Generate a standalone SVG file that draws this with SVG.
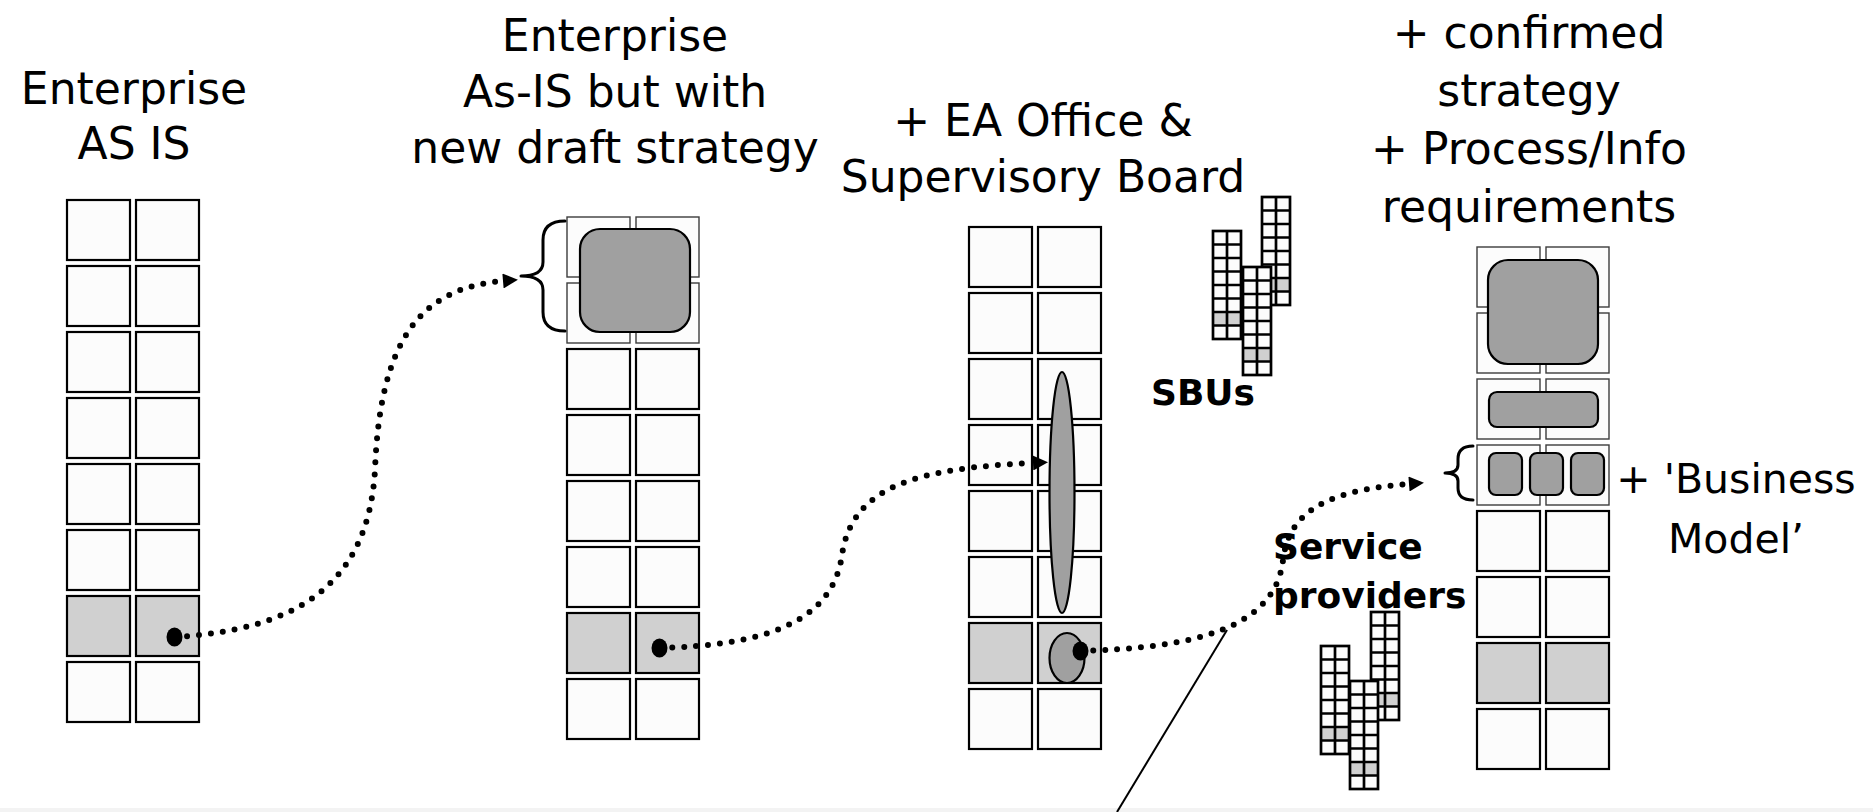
<svg xmlns="http://www.w3.org/2000/svg" xmlns:xlink="http://www.w3.org/1999/xlink" width="1873" height="812" viewBox="0 0 1873 812">
  <style>
    .title { font-family: "DejaVu Sans", "Liberation Sans", sans-serif; font-size: 44px; fill: #000; text-anchor: middle; }
    .note { font-family: "DejaVu Sans", "Liberation Sans", sans-serif; font-size: 41px; fill: #000; text-anchor: middle; }
    .bold { font-family: "DejaVu Sans", "Liberation Sans", sans-serif; font-weight: bold; font-size: 36px; fill: #000; }
    .cell { fill: #fcfcfc; stroke: #000; stroke-width: 2.2; }
    .cell.shade { fill: #d0d0d0; }
    .cell.under { stroke: #3c3c3c; stroke-width: 1.4; }
    .blob { fill: #a0a0a0; stroke: #000; stroke-width: 2.2; }
    .flow { fill: none; stroke: #000; stroke-width: 6; stroke-linecap: round; stroke-dasharray: 0 12; }
    .brace { fill: none; stroke: #000; stroke-width: 3; stroke-linecap: round; stroke-linejoin: round; }
    .mini { fill: none; stroke: #000; stroke-width: 2.7; }
  </style>
  <defs>
    <marker id="head" viewBox="0 0 10 10" refX="0" refY="5" markerUnits="userSpaceOnUse" markerWidth="17" markerHeight="15" orient="auto">
      <path d="M0,0 L10,5 L0,10 z" fill="#000"/>
    </marker>
    <!-- miniature 2x8 enterprise stack -->
    <g id="stack">
      <rect x="0" y="0" width="28" height="108" fill="#fcfcfc"/>
      <rect x="0" y="81" width="28" height="13.5" fill="#d0d0d0"/>
      <rect class="mini" x="0" y="0" width="28" height="108"/>
      <path class="mini" d="M14,0 V108 M0,13.5 H28 M0,27 H28 M0,40.5 H28 M0,54 H28 M0,67.5 H28 M0,81 H28 M0,94.5 H28"/>
    </g>
  </defs>

  <rect x="0" y="0" width="1873" height="812" fill="#fff"/>
  <rect x="0" y="808" width="1873" height="4" fill="#f3f3f3"/>

  <!-- Column 1: enterprise as is -->
  <g id="col-as-is">
    <text class="title" x="134" y="104">Enterprise</text>
    <text class="title" x="134" y="159">AS IS</text>
    <g transform="translate(67,200)">
      <rect class="cell" x="0" y="0" width="63" height="60"/><rect class="cell" x="69" y="0" width="63" height="60"/>
      <rect class="cell" x="0" y="66" width="63" height="60"/><rect class="cell" x="69" y="66" width="63" height="60"/>
      <rect class="cell" x="0" y="132" width="63" height="60"/><rect class="cell" x="69" y="132" width="63" height="60"/>
      <rect class="cell" x="0" y="198" width="63" height="60"/><rect class="cell" x="69" y="198" width="63" height="60"/>
      <rect class="cell" x="0" y="264" width="63" height="60"/><rect class="cell" x="69" y="264" width="63" height="60"/>
      <rect class="cell" x="0" y="330" width="63" height="60"/><rect class="cell" x="69" y="330" width="63" height="60"/>
      <rect class="cell shade" x="0" y="396" width="63" height="60"/><rect class="cell shade" x="69" y="396" width="63" height="60"/>
      <rect class="cell" x="0" y="462" width="63" height="60"/><rect class="cell" x="69" y="462" width="63" height="60"/>
    </g>
  </g>

  <!-- Column 2: as-is with draft strategy -->
  <g id="col-draft-strategy">
    <text class="title" x="615" y="51">Enterprise</text>
    <text class="title" x="615" y="107">As-IS but with</text>
    <text class="title" x="615" y="163">new draft strategy</text>
    <g transform="translate(567,217)">
      <rect class="cell under" x="0" y="0" width="63" height="60"/><rect class="cell under" x="69" y="0" width="63" height="60"/>
      <rect class="cell under" x="0" y="66" width="63" height="60"/><rect class="cell under" x="69" y="66" width="63" height="60"/>
      <rect class="cell" x="0" y="132" width="63" height="60"/><rect class="cell" x="69" y="132" width="63" height="60"/>
      <rect class="cell" x="0" y="198" width="63" height="60"/><rect class="cell" x="69" y="198" width="63" height="60"/>
      <rect class="cell" x="0" y="264" width="63" height="60"/><rect class="cell" x="69" y="264" width="63" height="60"/>
      <rect class="cell" x="0" y="330" width="63" height="60"/><rect class="cell" x="69" y="330" width="63" height="60"/>
      <rect class="cell shade" x="0" y="396" width="63" height="60"/><rect class="cell shade" x="69" y="396" width="63" height="60"/>
      <rect class="cell" x="0" y="462" width="63" height="60"/><rect class="cell" x="69" y="462" width="63" height="60"/>
      <rect class="blob" x="13" y="12" width="110" height="103" rx="20"/>
    </g>
    <path class="brace" d="M565,221 Q543,221 543,240 L543,262 Q543,276 521,276 Q543,276 543,290 L543,312 Q543,331 565,331"/>
  </g>

  <!-- Column 3: EA office and supervisory board -->
  <g id="col-ea-office">
    <text class="title" x="1043" y="136">+ EA Office &amp;</text>
    <text class="title" x="1043" y="192">Supervisory Board</text>
    <g transform="translate(969,227)">
      <rect class="cell" x="0" y="0" width="63" height="60"/><rect class="cell" x="69" y="0" width="63" height="60"/>
      <rect class="cell" x="0" y="66" width="63" height="60"/><rect class="cell" x="69" y="66" width="63" height="60"/>
      <rect class="cell" x="0" y="132" width="63" height="60"/><rect class="cell" x="69" y="132" width="63" height="60"/>
      <rect class="cell" x="0" y="198" width="63" height="60"/><rect class="cell" x="69" y="198" width="63" height="60"/>
      <rect class="cell" x="0" y="264" width="63" height="60"/><rect class="cell" x="69" y="264" width="63" height="60"/>
      <rect class="cell" x="0" y="330" width="63" height="60"/><rect class="cell" x="69" y="330" width="63" height="60"/>
      <rect class="cell shade" x="0" y="396" width="63" height="60"/><rect class="cell shade" x="69" y="396" width="63" height="60"/>
      <rect class="cell" x="0" y="462" width="63" height="60"/><rect class="cell" x="69" y="462" width="63" height="60"/>
      <ellipse class="blob" cx="93" cy="265.5" rx="12.5" ry="120.5"/>
      <ellipse class="blob" cx="98" cy="431" rx="17.5" ry="25"/>
    </g>
  </g>

  <!-- Strategic business units -->
  <g id="sbus">
    <use xlink:href="#stack" x="1213" y="231"/>
    <use xlink:href="#stack" x="1262" y="197"/>
    <use xlink:href="#stack" x="1243" y="267"/>
    <text class="bold" x="1151" y="405">SBUs</text>
  </g>

  <!-- Service providers -->
  <g id="service-providers">
    <text class="bold" x="1273" y="559">Service</text>
    <text class="bold" x="1273" y="608">providers</text>
    <use xlink:href="#stack" x="1321" y="646"/>
    <use xlink:href="#stack" x="1371" y="612"/>
    <use xlink:href="#stack" x="1350" y="681"/>
  </g>

  <!-- Column 4: confirmed strategy with business model -->
  <g id="col-confirmed">
    <text class="title" x="1529" y="48">+ confirmed</text>
    <text class="title" x="1529" y="106">strategy</text>
    <text class="title" x="1529" y="164">+ Process/Info</text>
    <text class="title" x="1529" y="222">requirements</text>
    <g transform="translate(1477,247)">
      <rect class="cell under" x="0" y="0" width="63" height="60"/><rect class="cell under" x="69" y="0" width="63" height="60"/>
      <rect class="cell under" x="0" y="66" width="63" height="60"/><rect class="cell under" x="69" y="66" width="63" height="60"/>
      <rect class="cell under" x="0" y="132" width="63" height="60"/><rect class="cell under" x="69" y="132" width="63" height="60"/>
      <rect class="cell under" x="0" y="198" width="63" height="60"/><rect class="cell under" x="69" y="198" width="63" height="60"/>
      <rect class="cell" x="0" y="264" width="63" height="60"/><rect class="cell" x="69" y="264" width="63" height="60"/>
      <rect class="cell" x="0" y="330" width="63" height="60"/><rect class="cell" x="69" y="330" width="63" height="60"/>
      <rect class="cell shade" x="0" y="396" width="63" height="60"/><rect class="cell shade" x="69" y="396" width="63" height="60"/>
      <rect class="cell" x="0" y="462" width="63" height="60"/><rect class="cell" x="69" y="462" width="63" height="60"/>
      <rect class="blob" x="11" y="13" width="110" height="104" rx="20"/>
      <rect class="blob" x="12" y="145" width="109" height="35" rx="8"/>
      <rect class="blob" x="12" y="206" width="33" height="42" rx="7"/>
      <rect class="blob" x="53" y="206" width="33" height="42" rx="7"/>
      <rect class="blob" x="94" y="206" width="33" height="42" rx="7"/>
    </g>
    <path class="brace" d="M1473,446 Q1458,446 1458,459 L1458,465 Q1458,473 1445,473 Q1458,473 1458,481 L1458,488 Q1458,500 1473,500"/>
    <text class="note" x="1736" y="493">+ 'Business</text>
    <text class="note" x="1736" y="553">Model’</text>
  </g>

  <!-- Dotted flows between stages -->
  <g id="connectors">
    <path class="flow" d="M175,637 C290,630 368,590 375,470 C380,340 420,288 503,281" marker-end="url(#head)"/>
    <path class="flow" d="M660,648 C760,645 832,625 842,555 C852,485 920,468 1033,463" marker-end="url(#head)"/>
    <path class="flow" d="M1081,651 C1190,648 1275,630 1283,560 C1289,510 1330,490 1409,484" marker-end="url(#head)"/>
    <ellipse cx="174.5" cy="637" rx="8" ry="9.5" fill="#000"/>
    <ellipse cx="659.5" cy="648" rx="8" ry="9.5" fill="#000"/>
    <ellipse cx="1080.5" cy="651" rx="8" ry="9.5" fill="#000"/>
    <line x1="1227" y1="630" x2="1117" y2="812" stroke="#000" stroke-width="2"/>
  </g>
</svg>
